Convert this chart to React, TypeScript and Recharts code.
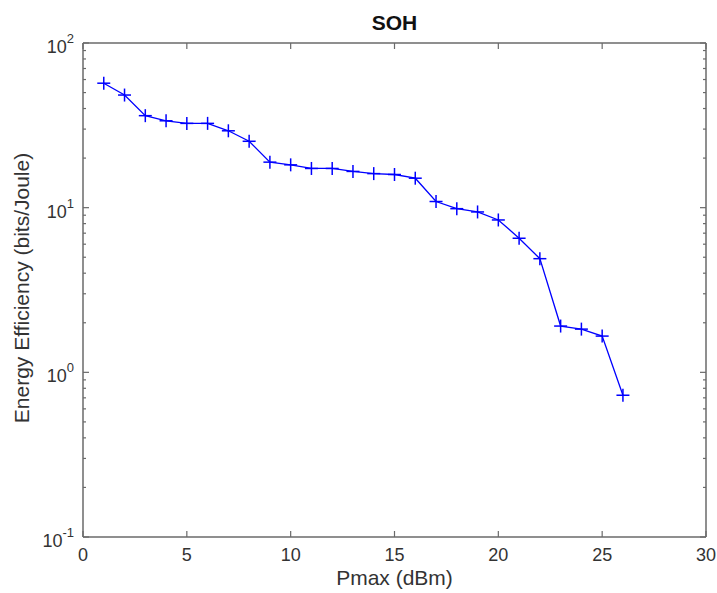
import React from "react";
import { LineChart, Line, XAxis, YAxis } from "recharts";

const pmax = [1, 2, 3, 4, 5, 6, 7, 8, 9, 10, 11, 12, 13, 14, 15, 16, 17, 18, 19, 20, 21, 22, 23, 24, 25, 26];
const efficiency = [57, 48.3, 36.2, 33.7, 32.5, 32.5, 29.3, 25.3, 18.9, 18.2, 17.3, 17.3, 16.6, 16.1, 15.9, 15.1, 10.9, 9.86, 9.42, 8.42, 6.52, 4.9, 1.91, 1.83, 1.66, 0.726];
const xTicks = [0, 5, 10, 15, 20, 25, 30];
const yMajor = [0.1, 1, 10, 100];
const yExp = ["-1", "0", "1", "2"];
const yMinor = [0.2, 0.3, 0.4, 0.5, 0.6, 0.7, 0.8, 0.9, 2, 3, 4, 5, 6, 7, 8, 9, 20, 30, 40, 50, 60, 70, 80, 90];
const yTicks = [...yMajor, ...yMinor].sort((a, b) => a - b);

const data = pmax.map((x, i) => ({ x, y: efficiency[i] }));

const AXIS = "#6a6a6a";
const TEXT = "#333333";
const FONT = "'Liberation Sans', Arial, Helvetica, sans-serif";
const BLUE = "#0000ff";

const isMajor = (v: number) => yMajor.some((m) => Math.abs(m - v) < 1e-9);

const LeftTick = (props: any) => {
  const { x, y, payload } = props;
  const v = payload.value;
  const major = isMajor(v);
  const idx = yMajor.findIndex((m) => Math.abs(m - v) < 1e-9);
  return (
    <g>
      <line x1={x} x2={x + (major ? 6 : 3)} y1={y} y2={y} stroke={AXIS} strokeWidth={1.2} />
      {major && (
        <text x={x - 9} y={y + 10} textAnchor="end" fill={TEXT} fontFamily={FONT} fontSize={18}>
          <tspan>10</tspan>
          <tspan dy={-10} fontSize={13}>{yExp[idx]}</tspan>
        </text>
      )}
    </g>
  );
};

const RightTick = (props: any) => {
  const { x, y, payload } = props;
  const major = isMajor(payload.value);
  return <line x1={x} x2={x - (major ? 6 : 3)} y1={y} y2={y} stroke={AXIS} strokeWidth={1.2} />;
};

const BottomTick = (props: any) => {
  const { x, y, payload } = props;
  return (
    <g>
      <line x1={x} x2={x} y1={y} y2={y - 6} stroke={AXIS} strokeWidth={1.2} />
      <text x={x} y={y + 24} textAnchor="middle" fill={TEXT} fontFamily={FONT} fontSize={18}>
        {payload.value}
      </text>
    </g>
  );
};

const TopTick = (props: any) => {
  const { x, y } = props;
  return <line x1={x} x2={x} y1={y} y2={y + 6} stroke={AXIS} strokeWidth={1.2} />;
};

const PlusDot = (props: any) => {
  const { cx, cy, index } = props;
  if (cx == null || cy == null) return null;
  return (
    <g key={`p${index}`}>
      <line x1={cx - 6.5} x2={cx + 6.5} y1={cy} y2={cy} stroke={BLUE} strokeWidth={1.5} />
      <line x1={cx} x2={cx} y1={cy - 6.5} y2={cy + 6.5} stroke={BLUE} strokeWidth={1.5} />
    </g>
  );
};

export default function App() {
  return (
    <div style={{ position: "absolute", left: 0, top: 0, width: 717, height: 593, background: "#fff" }}>
      <div
        style={{
          position: "absolute",
          left: 83,
          width: 623,
          top: 12,
          textAlign: "center",
          fontFamily: FONT,
          fontWeight: "bold",
          fontSize: 21,
          color: "#111",
          lineHeight: "22px",
        }}
      >
        SOH
      </div>
      <div
        style={{
          position: "absolute",
          left: 83,
          width: 623,
          top: 567,
          textAlign: "center",
          fontFamily: FONT,
          fontSize: 21,
          color: TEXT,
          lineHeight: "22px",
        }}
      >
        Pmax (dBm)
      </div>
      <div
        style={{
          position: "absolute",
          left: 22 - 200,
          top: 288 - 11,
          width: 400,
          height: 22,
          textAlign: "center",
          fontFamily: FONT,
          fontSize: 21,
          color: TEXT,
          lineHeight: "22px",
          transform: "rotate(-90deg)",
          whiteSpace: "nowrap",
        }}
      >
        Energy Efficiency (bits/Joule)
      </div>
      <LineChart width={717} height={593} data={data} margin={{ top: 42, right: 0, bottom: 0, left: 0 }}>
        <XAxis
          dataKey="x"
          type="number"
          domain={[0, 30]}
          ticks={xTicks}
          allowDataOverflow
          height={56}
          tickSize={0}
          tickMargin={0}
          tickLine={false}
          axisLine={{ stroke: AXIS, strokeWidth: 1.5 }}
          tick={<BottomTick />}
          interval={0}
        />
        <XAxis
          xAxisId="top"
          orientation="top"
          dataKey="x"
          type="number"
          domain={[0, 30]}
          ticks={xTicks}
          allowDataOverflow
          height={1}
          tickSize={0}
          tickMargin={0}
          tickLine={false}
          axisLine={{ stroke: AXIS, strokeWidth: 1.5 }}
          tick={<TopTick />}
          interval={0}
        />
        <YAxis
          type="number"
          scale="log"
          domain={[0.1, 100]}
          ticks={yTicks}
          allowDataOverflow
          width={83}
          tickSize={0}
          tickMargin={0}
          tickLine={false}
          axisLine={{ stroke: AXIS, strokeWidth: 1.5 }}
          tick={<LeftTick />}
          interval={0}
        />
        <YAxis
          yAxisId="right"
          orientation="right"
          type="number"
          scale="log"
          domain={[0.1, 100]}
          ticks={yTicks}
          allowDataOverflow
          width={11}
          tickSize={0}
          tickMargin={0}
          tickLine={false}
          axisLine={{ stroke: AXIS, strokeWidth: 1.5 }}
          tick={<RightTick />}
          interval={0}
        />
        <Line
          dataKey="y"
          stroke={BLUE}
          strokeWidth={1.3}
          dot={<PlusDot />}
          activeDot={false}
          isAnimationActive={false}
        />
      </LineChart>
    </div>
  );
}
